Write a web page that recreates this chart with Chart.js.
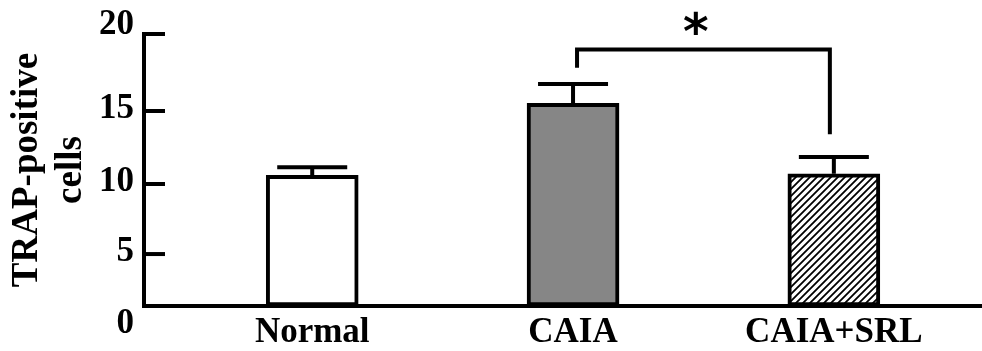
<!DOCTYPE html>
<html>
<head>
<meta charset="utf-8">
<script src="https://cdn.jsdelivr.net/npm/chart.js@4.4.1/dist/chart.umd.min.js"></script>
<style>
  html, body { margin: 0; padding: 0; background: #fff; overflow: hidden; }
  canvas { display: block; }
</style>
</head>
<body>
<canvas id="chart" width="982" height="351"></canvas>
<script>
// ---- data ----
const categories = ['Normal', 'CAIA', 'CAIA+SRL'];
const meanValues = [10.6, 15.5, 10.7];
const sdValues   = [0.55, 1.25, 1.15];
const yTickValues = [0, 5, 10, 15, 20];
const yTickLabels = ['0', '5', '10', '15', '20'];

// ---- axis geometry: where each tick value sits, as a fraction of the axis height ----
const yTickFractions = [0, 0.191, 0.4485, 0.717, 1];

function fractionOf(v) {
  const n = yTickValues.length;
  let i = 0;
  while (i < n - 2 && v > yTickValues[i + 1]) i++;
  const v0 = yTickValues[i], v1 = yTickValues[i + 1];
  const f0 = yTickFractions[i], f1 = yTickFractions[i + 1];
  return f0 + (v - v0) / (v1 - v0) * (f1 - f0);
}
function valueOf(f) {
  const n = yTickFractions.length;
  let i = 0;
  while (i < n - 2 && f > yTickFractions[i + 1]) i++;
  const v0 = yTickValues[i], v1 = yTickValues[i + 1];
  const f0 = yTickFractions[i], f1 = yTickFractions[i + 1];
  return v0 + (f - f0) / (f1 - f0) * (v1 - v0);
}

// Linear scale whose ticks follow the spacing above
class TickSpacedScale extends Chart.LinearScale {
  static id = 'tickSpaced';
  static defaults = Chart.LinearScale.defaults;
  getPixelForValue(value) {
    if (value === null || value === undefined || isNaN(value)) return NaN;
    return this.bottom - fractionOf(value) * (this.bottom - this.top);
  }
  getValueForPixel(pixel) {
    return valueOf((this.bottom - pixel) / (this.bottom - this.top));
  }
}
Chart.register(TickSpacedScale);

const SERIF = "'Liberation Serif', 'Times New Roman', serif";
const canvas = document.getElementById('chart');
const ctx = canvas.getContext('2d');

// diagonal hatching for the third bar
function makeHatch() {
  const s = 7;
  const c = document.createElement('canvas');
  c.width = s; c.height = s;
  const g = c.getContext('2d');
  g.fillStyle = '#ffffff';
  g.fillRect(0, 0, s, s);
  g.strokeStyle = '#000000';
  g.lineWidth = 1.8;
  g.beginPath();
  g.moveTo(-1, s + 1); g.lineTo(s + 1, -1);
  g.moveTo(-1, 1); g.lineTo(1, -1);
  g.moveTo(s - 1, s + 1); g.lineTo(s + 1, s - 1);
  g.stroke();
  return ctx.createPattern(c, 'repeat');
}

// inward tick marks and tick labels on the value axis
const valueAxisPlugin = {
  id: 'valueAxis',
  afterDraw(chart) {
    const y = chart.scales.y;
    const left = chart.chartArea.left;
    const c = chart.ctx;
    c.save();
    c.strokeStyle = '#000';
    c.lineWidth = 4;
    c.fillStyle = '#000';
    c.font = 'bold 35px ' + SERIF;
    c.textAlign = 'right';
    c.textBaseline = 'alphabetic';
    const maxV = yTickValues[yTickValues.length - 1];
    yTickValues.forEach((v, i) => {
      const py = y.getPixelForValue(v);
      if (v !== yTickValues[0]) {
        c.beginPath();
        c.moveTo(left - 2, py);
        c.lineTo(left + 21, py);
        c.stroke();
      }
      let base;
      if (v === maxV) base = py;
      else if (v === yTickValues[0]) base = py + 27;
      else base = py + 7;
      c.fillText(yTickLabels[i], 134, base);
    });
    c.restore();
  }
};

// one-sided error bars above each bar
const errorBarPlugin = {
  id: 'errorBars',
  afterDatasetsDraw(chart) {
    const meta = chart.getDatasetMeta(0);
    const y = chart.scales.y;
    const c = chart.ctx;
    c.save();
    c.strokeStyle = '#000';
    c.lineWidth = 4;
    c.lineCap = 'butt';
    meta.data.forEach((bar, i) => {
      const top = y.getPixelForValue(meanValues[i] + sdValues[i]);
      c.beginPath();
      c.moveTo(bar.x, bar.y);
      c.lineTo(bar.x, top);
      c.moveTo(bar.x - 35, top);
      c.lineTo(bar.x + 35, top);
      c.stroke();
    });
    c.restore();
  }
};

// significance bracket between CAIA and CAIA+SRL
const bracketPlugin = {
  id: 'bracket',
  afterDatasetsDraw(chart, args, opts) {
    const x = chart.scales.x, y = chart.scales.y;
    const c = chart.ctx;
    const x1 = x.getPixelForValue(opts.from + 1) + opts.inset;
    const x2 = x.getPixelForValue(opts.to + 1) - opts.inset;
    const yTop = y.getPixelForValue(opts.top);
    c.save();
    c.strokeStyle = '#000';
    c.lineWidth = 4;
    c.lineJoin = 'miter';
    c.beginPath();
    c.moveTo(x1, y.getPixelForValue(opts.leftEnd));
    c.lineTo(x1, yTop);
    c.lineTo(x2, yTop);
    c.lineTo(x2, y.getPixelForValue(opts.rightEnd));
    c.stroke();
    // size the star so its glyph is opts.labelWidth wide, then centre it
    c.fillStyle = '#000';
    c.textAlign = 'left';
    c.textBaseline = 'alphabetic';
    c.font = 'bold 100px ' + opts.family;
    let m = c.measureText(opts.label);
    const size = 100 * opts.labelWidth / (m.actualBoundingBoxLeft + m.actualBoundingBoxRight);
    c.font = 'bold ' + size.toFixed(1) + 'px ' + opts.family;
    m = c.measureText(opts.label);
    const gw = m.actualBoundingBoxLeft + m.actualBoundingBoxRight;
    const gh = m.actualBoundingBoxAscent + m.actualBoundingBoxDescent;
    const cx = x.getPixelForValue(opts.labelAt);
    const cy = yTop - opts.labelGap;
    c.fillText(opts.label, cx - gw / 2 + m.actualBoundingBoxLeft, cy + gh / 2 - m.actualBoundingBoxDescent);
    c.restore();
  }
};

new Chart(ctx, {
  type: 'bar',
  data: {
    datasets: [{
      data: categories.map((c, i) => ({ x: i + 1, y: meanValues[i] })),
      backgroundColor: ['#ffffff', '#868686', makeHatch()],
      borderColor: '#000000',
      borderWidth: 4,
      borderSkipped: false,
      barThickness: 92
    }]
  },
  options: {
    responsive: false,
    animation: false,
    devicePixelRatio: 1,
    events: [],
    layout: { padding: { top: 34, left: 0, right: 0, bottom: 0 } },
    plugins: {
      legend: { display: false },
      tooltip: { enabled: false },
      bracket: {
        from: 1, to: 2, inset: 4,
        top: 19.0, leftEnd: 17.8, rightEnd: 13.4,
        label: '*', labelAt: 2.47, labelGap: 26, labelWidth: 24,
        family: "'DejaVu Sans', sans-serif"
      }
    },
    scales: {
      x: {
        type: 'linear',
        offset: false,
        min: 0.355,
        max: 3.568,
        afterBuildTicks: (axis) => { axis.ticks = categories.map((_, i) => ({ value: i + 1 })); },
        afterFit: (s) => { s.height = 45; },
        grid: { display: false, drawTicks: false, offset: false },
        border: { display: true, color: '#000', width: 4 },
        ticks: {
          autoSkip: false,
          maxRotation: 0,
          padding: 6,
          color: '#000',
          font: { family: SERIF, weight: 'bold', size: 35 },
          callback: (v) => categories[v - 1] ?? ''
        }
      },
      y: {
        type: 'tickSpaced',
        min: 0,
        max: 20,
        afterFit: (s) => { s.width = 144; },
        grid: { display: false, drawTicks: false },
        border: { display: true, color: '#000', width: 4 },
        ticks: { display: false, stepSize: 5 },
        title: {
          display: true,
          text: ['TRAP-positive', 'cells'],
          color: '#000',
          font: { family: SERIF, weight: 'bold', size: 37, lineHeight: 1.2 },
          padding: { top: 5, bottom: 0 }
        }
      }
    }
  },
  plugins: [valueAxisPlugin, errorBarPlugin, bracketPlugin]
});
</script>
</body>
</html>
